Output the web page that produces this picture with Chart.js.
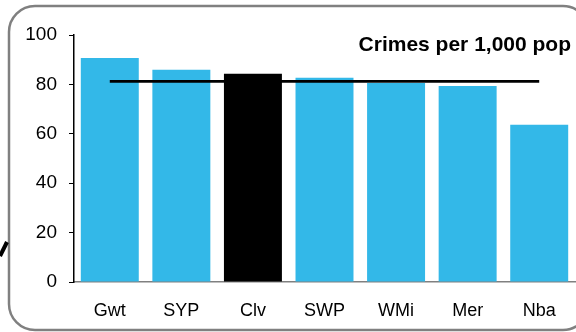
<!DOCTYPE html>
<html>
<head>
<meta charset="utf-8">
<script src="https://cdn.jsdelivr.net/npm/chart.js@4"></script>
<style>
  html, body { margin: 0; padding: 0; background: #fff; }
  #wrap { width: 576px; height: 332px; position: relative; }
</style>
</head>
<body>
<div id="wrap"><canvas id="crimeChart"></canvas></div>
<script>
const areas = ["Gwt", "SYP", "Clv", "SWP", "WMi", "Mer", "Nba"];
const crimeRates = [90.7, 85.9, 84.3, 82.7, 80.6, 79.4, 63.7];
const averageRate = [81.2, 81.2, 81.2, 81.2, 81.2, 81.2, 81.2];
const yTicks = [0, 20, 40, 60, 80, 100];
const chartTitle = "Crimes per 1,000 pop";

const blue = "#33B8E8";
const barColors = areas.map((a) => (a === "Clv" ? "#000000" : blue));

// slide frame, stray pen mark and the in-plot title
const framePlugin = {
  id: "frame",
  beforeDraw(chart) {
    const ctx = chart.ctx;
    ctx.save();
    ctx.strokeStyle = "#808080";
    ctx.lineWidth = 2.5;
    ctx.beginPath();
    ctx.roundRect(9, 6, 580, 324, 26);
    ctx.stroke();
    ctx.strokeStyle = "#000";
    ctx.lineWidth = 4;
    ctx.beginPath();
    ctx.moveTo(0, 256);
    ctx.lineTo(7, 242);
    ctx.stroke();
    ctx.restore();
  },
  afterDraw(chart) {
    const ctx = chart.ctx;
    ctx.save();
    ctx.fillStyle = "#000";
    ctx.font = "bold 21px 'Liberation Sans', Arial, sans-serif";
    ctx.textAlign = "right";
    ctx.textBaseline = "middle";
    ctx.fillText(chartTitle, 571, 45);
    ctx.restore();
  },
};

const ctx = document.getElementById("crimeChart").getContext("2d");
new Chart(ctx, {
  data: {
    labels: areas,
    datasets: [
      {
        type: "line",
        label: "Average",
        data: averageRate,
        borderColor: "#000",
        borderWidth: 2.8,
        pointRadius: 0,
        order: 0,
      },
      {
        type: "bar",
        label: "Crimes per 1,000 pop",
        data: crimeRates,
        backgroundColor: barColors,
        borderWidth: 0,
        barPercentage: 0.81,
        categoryPercentage: 1.0,
        order: 1,
      },
    ],
  },
  options: {
    responsive: true,
    maintainAspectRatio: false,
    animation: false,
    layout: {
      padding: { top: 35, right: 1, bottom: 0, left: 0 },
    },
    plugins: {
      legend: { display: false },
      tooltip: { enabled: false },
    },
    scales: {
      x: {
        afterFit: (scale) => { scale.height = 50; },
        grid: { display: false },
        border: { color: "#808080", width: 1.5 },
        ticks: {
          color: "#000",
          padding: 10,
          font: { size: 18, family: "'Liberation Sans', Arial, sans-serif" },
        },
      },
      y: {
        min: 0,
        max: 100,
        afterFit: (scale) => { scale.width = 74; },
        afterBuildTicks: (scale) => {
          scale.ticks = yTicks.map((v) => ({ value: v }));
        },
        grid: {
          display: true,
          drawOnChartArea: false,
          drawTicks: true,
          tickLength: 5,
          color: "#000",
        },
        border: { color: "#000", width: 1.5 },
        ticks: {
          color: "#000",
          padding: 12,
          font: { size: 19, family: "'Liberation Sans', Arial, sans-serif" },
        },
      },
    },
  },
  plugins: [framePlugin],
});
</script>
</body>
</html>
